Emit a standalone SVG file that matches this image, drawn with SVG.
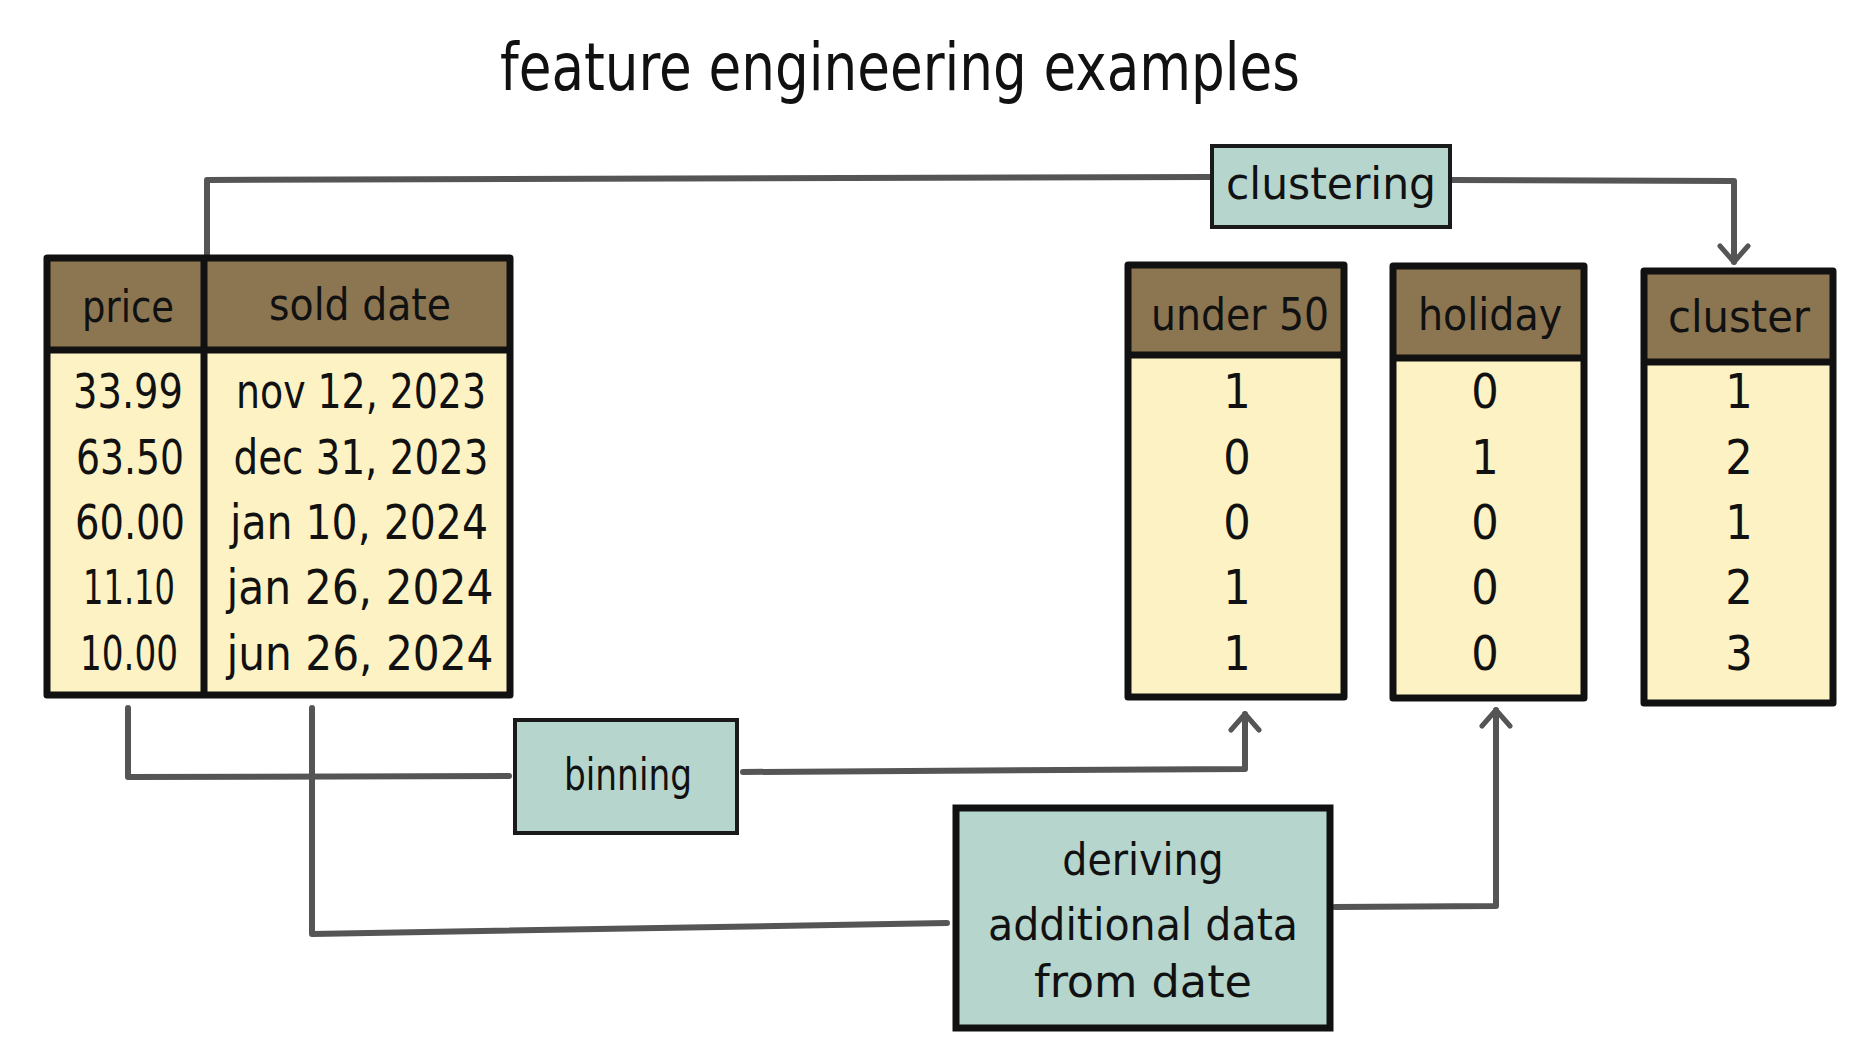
<svg xmlns="http://www.w3.org/2000/svg" width="1858" height="1045" viewBox="0 0 1858 1045">
<style>
  .t { font-family: "Liberation Sans Narrow", "DejaVu Sans Condensed", "Liberation Sans", sans-serif; fill: #111; text-anchor: middle; }
  .hdr { fill: #8B7651; }
  .body { fill: #FCF2C4; }
  .frame { fill: none; stroke: #111; stroke-width: 7; stroke-linejoin: round; }
  .sep { stroke: #111; stroke-width: 7; }
  .proc { fill: #B5D5CD; stroke: #1a1a1a; stroke-width: 4; }
  .proc2 { fill: #B5D5CD; stroke: #111; stroke-width: 7; }
  .conn { fill: none; stroke: #555; stroke-width: 6; stroke-linejoin: round; stroke-linecap: round; }
  .cell { font-size: 48px; }
  .head { font-size: 44px; }
</style>
<defs>
  <marker id="arr" markerUnits="userSpaceOnUse" viewBox="0 0 22 34" refX="19" refY="17" markerWidth="22" markerHeight="34" orient="auto">
    <path d="M3,3 L19,17 L3,31" fill="none" stroke="#555" stroke-width="5" stroke-linecap="round" stroke-linejoin="round"/>
  </marker>
</defs>
<rect width="1858" height="1045" fill="#ffffff"/>

<text id="title" class="t" x="900" y="90" font-size="66" textLength="800" lengthAdjust="spacingAndGlyphs">feature engineering examples</text>

<g id="connectors">
  <path class="conn" d="M207,254 L207,180 L1211,177"/>
  <path class="conn" d="M1452,180 L1734,181 L1734,262" marker-end="url(#arr)"/>
  <path class="conn" d="M128,708 L128,777 L509,776"/>
  <path class="conn" d="M743,772 L1245,769 L1245,714" marker-end="url(#arr)"/>
  <path class="conn" d="M312,708 L312,934 L947,923"/>
  <path class="conn" d="M1335,907 L1496,906 L1496,710" marker-end="url(#arr)"/>
</g>

<g id="source-table">
  <rect class="body" x="47" y="258" width="463" height="437"/>
  <rect class="hdr" x="47" y="258" width="463" height="92"/>
  <line class="sep" x1="47" y1="350" x2="510" y2="350"/>
  <line class="sep" x1="204" y1="258" x2="204" y2="695"/>
  <rect class="frame" x="47" y="258" width="463" height="437"/>
  <text class="t head" x="128" y="322" textLength="92" lengthAdjust="spacingAndGlyphs">price</text>
  <text class="t head" x="360" y="320" textLength="182" lengthAdjust="spacingAndGlyphs">sold date</text>
  <text class="t cell" x="128" y="408" textLength="110" lengthAdjust="spacingAndGlyphs">33.99</text>
  <text class="t cell" x="130" y="474" textLength="108" lengthAdjust="spacingAndGlyphs">63.50</text>
  <text class="t cell" x="130" y="539" textLength="110" lengthAdjust="spacingAndGlyphs">60.00</text>
  <text class="t cell" x="129" y="604" textLength="92" lengthAdjust="spacingAndGlyphs">11.10</text>
  <text class="t cell" x="129" y="670" textLength="98" lengthAdjust="spacingAndGlyphs">10.00</text>
  <text class="t cell" x="361" y="408" textLength="250" lengthAdjust="spacingAndGlyphs">nov 12, 2023</text>
  <text class="t cell" x="361" y="474" textLength="255" lengthAdjust="spacingAndGlyphs">dec 31, 2023</text>
  <text class="t cell" x="359" y="539" textLength="258" lengthAdjust="spacingAndGlyphs">jan 10, 2024</text>
  <text class="t cell" x="360" y="604" textLength="267" lengthAdjust="spacingAndGlyphs">jan 26, 2024</text>
  <text class="t cell" x="360" y="670" textLength="267" lengthAdjust="spacingAndGlyphs">jun 26, 2024</text>
</g>

<g id="under50-table">
  <rect class="body" x="1128" y="265" width="216" height="432"/>
  <rect class="hdr" x="1128" y="265" width="216" height="90"/>
  <line class="sep" x1="1128" y1="355" x2="1344" y2="355"/>
  <rect class="frame" x="1128" y="265" width="216" height="432"/>
  <text class="t head" x="1240" y="330" textLength="178" lengthAdjust="spacingAndGlyphs">under 50</text>
  <text class="t cell" x="1237" y="408">1</text>
  <text class="t cell" x="1237" y="474">0</text>
  <text class="t cell" x="1237" y="539">0</text>
  <text class="t cell" x="1237" y="604">1</text>
  <text class="t cell" x="1237" y="670">1</text>
</g>

<g id="holiday-table">
  <rect class="body" x="1393" y="266" width="191" height="432"/>
  <rect class="hdr" x="1393" y="266" width="191" height="92"/>
  <line class="sep" x1="1393" y1="358" x2="1584" y2="358"/>
  <rect class="frame" x="1393" y="266" width="191" height="432"/>
  <text class="t head" x="1490" y="330">holiday</text>
  <text class="t cell" x="1485" y="408">0</text>
  <text class="t cell" x="1485" y="474">1</text>
  <text class="t cell" x="1485" y="539">0</text>
  <text class="t cell" x="1485" y="604">0</text>
  <text class="t cell" x="1485" y="670">0</text>
</g>

<g id="cluster-table">
  <rect class="body" x="1644" y="271" width="189" height="432"/>
  <rect class="hdr" x="1644" y="271" width="189" height="91"/>
  <line class="sep" x1="1644" y1="362" x2="1833" y2="362"/>
  <rect class="frame" x="1644" y="271" width="189" height="432"/>
  <text class="t head" x="1739" y="332" textLength="142" lengthAdjust="spacingAndGlyphs">cluster</text>
  <text class="t cell" x="1739" y="408">1</text>
  <text class="t cell" x="1739" y="474">2</text>
  <text class="t cell" x="1739" y="539">1</text>
  <text class="t cell" x="1739" y="604">2</text>
  <text class="t cell" x="1739" y="670">3</text>
</g>

<g id="clustering">
  <rect class="proc" x="1212" y="146" width="238" height="81"/>
  <text class="t head" x="1331" y="199" textLength="210" lengthAdjust="spacingAndGlyphs">clustering</text>
</g>

<g id="binning">
  <rect class="proc" x="515" y="720" width="222" height="113"/>
  <text class="t head" x="628" y="790" textLength="128" lengthAdjust="spacingAndGlyphs">binning</text>
</g>

<g id="deriving">
  <rect class="proc2" x="956" y="808" width="374" height="220"/>
  <text class="t head" x="1143" y="875">deriving</text>
  <text class="t head" x="1143" y="940" textLength="310" lengthAdjust="spacingAndGlyphs">additional data</text>
  <text class="t head" x="1143" y="997" textLength="218" lengthAdjust="spacingAndGlyphs">from date</text>
</g>
</svg>
